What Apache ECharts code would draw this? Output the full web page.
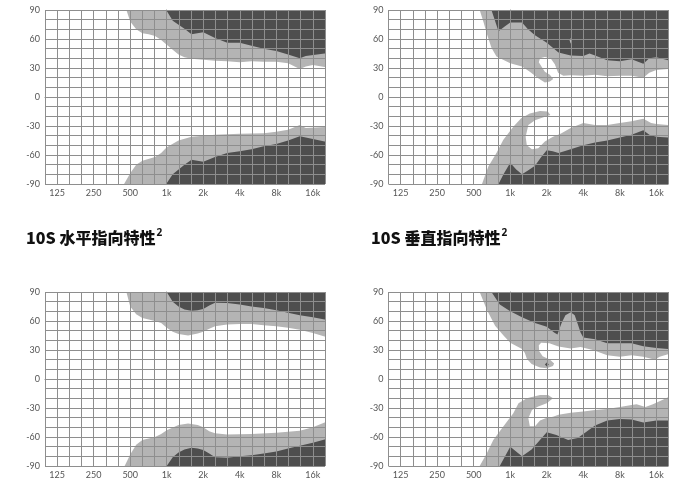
<!DOCTYPE html>
<html>
<head>
<meta charset="utf-8">
<script src="https://cdn.jsdelivr.net/npm/echarts@6/dist/echarts.min.js"></script>
<style>
  html, body { margin: 0; padding: 0; background: #fff; }
  #chart { width: 683px; height: 482px; }
</style>
</head>
<body>
<div id="chart"></div>
<script>
// frequency ticks (Hz) and their labels
const xTickFreqs = [125, 250, 500, 1000, 2000, 4000, 8000, 16000];
const xTickLabels = ['125', '250', '500', '1k', '2k', '4k', '8k', '16k'];
const yTickValues = [-90, -60, -30, 0, 30, 60, 90];

// contour boundaries: [freq Hz, angle deg]
// top-left (horizontal)
const topHUpperLight = [[465,90],[500,78],[560,70],[630,66],[710,65],[800,63],[900,59],[1000,54],[1120,49],[1250,44],[1400,41],[1600,39.5],[2000,38.5],[2500,37.5],[3150,37],[4000,36],[5000,37],[6300,36.5],[8000,36.5],[10000,35],[12500,29],[14000,31.5],[16000,33],[20000,31]];
const topHUpperDark = [[990,90],[1120,79],[1400,70.5],[1600,65],[2000,67],[2500,61],[3150,56],[4000,56],[5000,53],[6300,50],[8000,47.5],[10000,44],[12500,40],[14000,42.5],[20000,45]];
const topHLowerLight = [[445,-90],[500,-79],[560,-70],[630,-66],[800,-62],[900,-58],[1000,-52],[1250,-45],[1600,-41],[2000,-40],[2500,-39],[4000,-38],[6300,-37.5],[8000,-36],[10000,-34],[12500,-29],[14000,-32],[20000,-31]];
const topHLowerDark = [[990,-90],[1120,-80],[1400,-70],[1600,-65],[2000,-67],[2500,-62],[3150,-58],[4000,-56],[5000,-54],[6300,-51],[8000,-48.5],[10000,-45],[12500,-40.5],[14000,-42],[20000,-46]];

// top-right (vertical)
const topVUpperLight = [[560,90],[600,78],[650,63],[700,51],[770,42],[1000,35],[1250,31.5],[1450,26],[1700,19.5],[1930,15],[2120,16],[2260,18.5],[2120,23],[1930,26],[1820,31],[1720,36],[1760,40],[1930,41.5],[2150,40],[2330,34],[2480,25],[2740,22],[3150,22.5],[4000,22],[5000,23],[6300,21.5],[8000,22],[10000,22],[12500,20],[14000,25],[16000,28],[20000,29]];
const topVUpperDark = [[700,90],[800,68],[900,73],[1000,77],[1250,77],[1400,70],[1600,64],[2000,56],[2500,46],[3150,43],[4000,42.5],[4500,45],[5000,43],[6300,38],[8000,37],[10000,39],[12500,34.5],[14000,40],[16000,41],[20000,38]];
const topVLowerLight = [[585,-90],[660,-72],[770,-58],[875,-44.5],[1060,-30.7],[1230,-22],[1450,-17],[1760,-14.5],[2040,-15],[2140,-18.5],[1930,-20.5],[1600,-24],[1410,-29],[1340,-41],[1370,-50],[1510,-54],[1700,-53],[1930,-46],[2250,-41],[2600,-38],[3150,-32],[4000,-27],[5000,-29],[6300,-29],[8000,-27],[10000,-25],[12500,-22.5],[14500,-27],[16000,-28],[20000,-29]];
const topVLowerDark = [[800,-90],[880,-80],[1000,-68],[1120,-75],[1250,-80],[1400,-76],[1600,-71],[1800,-62],[2000,-55],[2240,-56],[2500,-58],[3150,-54],[4000,-50],[5000,-47],[6300,-45],[8000,-42],[10000,-39],[12500,-34.5],[14000,-39],[16000,-41],[20000,-42]];
const topVSpeck = [[3080,59],[3150,61],[3200,58],[3150,55]];

// bottom-left: 10S horizontal
const botHUpperLight = [[465,90],[500,75],[560,67],[630,63],[800,60],[900,58],[1000,53],[1120,49],[1250,46.5],[1500,45],[1800,47],[2000,49],[2240,52],[2500,54.5],[3150,56.5],[4000,57],[5000,57],[6300,55.5],[8000,54.5],[10000,53],[12500,51],[16000,47.5],[20000,44]];
const botHUpperDark = [[1000,90],[1120,80],[1250,75],[1400,72],[1600,70.5],[1800,71],[2000,72.5],[2240,76],[2500,79],[3150,78.5],[4000,77],[5000,75],[6300,73.5],[8000,71],[10000,68.5],[12500,66],[16000,64],[20000,61.5]];
const botHLowerLight = [[450,-90],[500,-78],[560,-68],[630,-63],[800,-60],[900,-57],[1000,-53],[1250,-47.5],[1500,-46],[1800,-47.5],[2000,-50],[2240,-54],[2500,-56],[3150,-57.5],[5000,-57],[8000,-55.5],[12500,-53.5],[16000,-50],[20000,-45]];
const botHLowerDark = [[1000,-90],[1120,-81],[1250,-76],[1400,-73],[1600,-71],[1800,-72],[2000,-73.5],[2240,-77],[2500,-81],[3150,-81.5],[4000,-80],[5000,-79],[6300,-77],[8000,-75],[10000,-72],[12500,-69],[16000,-66],[20000,-62.5]];

// bottom-right: 10S vertical
const botVUpperLight = [[560,90],[640,72],[750,55],[880,45],[1000,37.5],[1250,31],[1320,27],[1370,21],[1500,15.5],[1760,12],[2000,11],[2250,13.5],[2300,16],[2130,20],[1850,23.5],[1730,29],[1720,35],[1800,37.5],[2100,37],[2500,33.5],[3150,31.5],[3800,33],[4800,30],[6300,24.5],[8000,23],[10000,24.5],[12500,23],[15600,20],[17000,23],[20000,25.5]];
const botVUpperDark = [[700,90],[820,77],[1000,70],[1250,64],[1600,58],[2000,54],[2300,48],[2450,46],[2650,58],[2850,66],[3150,69],[3400,66],[3600,57],[3800,48],[4000,43],[5000,41],[6300,37],[8000,37],[10000,37],[12500,34],[16000,32],[20000,31]];
const botVLowerLight = [[560,-90],[640,-77],[725,-63],[880,-49],[1060,-35.5],[1170,-25],[1370,-20],[1760,-16.5],[2050,-16.5],[2250,-20],[2000,-25],[1700,-28.5],[1510,-32],[1410,-40.5],[1450,-49],[1600,-49],[1760,-43],[2000,-40],[2250,-39],[2500,-37],[3150,-35],[4000,-33.5],[5000,-32],[6300,-31],[8000,-29],[10000,-27],[11000,-26],[13000,-29],[15000,-26],[17000,-23],[20000,-19]];
const botVLowerDark = [[820,-90],[1000,-70],[1250,-80],[1500,-73],[2000,-55],[2400,-58],[3000,-63],[3600,-61],[4000,-57],[5000,-48],[6300,-43],[8000,-41.5],[10000,-42],[12500,-45],[16000,-43],[20000,-43]];
const botVSpeck = [[1930,15],[2000,17],[2080,15],[2000,13]];

const titles = ['10S 水平指向特性', '10S 垂直指向特性'];

const LIGHT = '#b4b4b4';
const DARK = '#4e4e4e';
const GRID = '#8e8e8e';
const X_MIN = -10 / 3, X_MAX = 13 / 3;   // 100 Hz .. 20 kHz in octaves re 1 kHz

const toOct = (f) => Math.log2(f / 1000);
const clamp = (v, a, b) => Math.min(Math.max(v, a), b);

// close a boundary path against the top (edge=95) or bottom (edge=-95)
function region(boundary, edge) {
  const pts = boundary.slice();
  const last = pts[pts.length - 1];
  pts.push([22000, last[1]], [22000, edge], [pts[0][0], edge]);
  return pts;
}

function polySeries(axisIdx, pts, color, z) {
  return {
    type: 'custom',
    xAxisIndex: axisIdx,
    yAxisIndex: axisIdx,
    silent: true,
    z: z,
    data: [[0, 0]],
    renderItem: (params, api) => ({
      type: 'polygon',
      shape: {
        points: pts.map((p) => api.coord([clamp(toOct(p[0]), X_MIN, X_MAX), clamp(p[1], -90, 90)])),
      },
      style: { fill: color },
    }),
  };
}

const panels = [
  { left: 45, top: 10, ul: topHUpperLight, ud: topHUpperDark, ll: topHLowerLight, ld: topHLowerDark },
  { left: 388.5, top: 10, ul: topVUpperLight, ud: topVUpperDark, ll: topVLowerLight, ld: topVLowerDark, speck: topVSpeck, speckColor: LIGHT },
  { left: 45, top: 292, ul: botHUpperLight, ud: botHUpperDark, ll: botHLowerLight, ld: botHLowerDark },
  { left: 388.5, top: 292, ul: botVUpperLight, ud: botVUpperDark, ll: botVLowerLight, ld: botVLowerDark, speck: botVSpeck, speckColor: DARK },
];

const xTickOct = xTickFreqs.map(toOct);
const labelFont = { fontSize: 9, color: '#555', fontFamily: 'Lato, "DejaVu Sans", sans-serif' };

const grid = [], xAxis = [], yAxis = [], series = [];
panels.forEach((p, i) => {
  grid.push({ left: p.left, top: p.top, width: 280, height: 174 });
  // labelled frequency axis (octave ticks)
  xAxis.push({
    gridIndex: i, type: 'value', min: X_MIN, max: X_MAX, z: 6,
    axisLine: { lineStyle: { color: GRID, width: 1 } },
    axisTick: { customValues: xTickOct, length: 3, lineStyle: { color: GRID } },
    axisLabel: Object.assign({
      customValues: xTickOct, margin: 5,
      formatter: (v) => {
        const k = xTickOct.findIndex((o) => Math.abs(o - v) < 0.01);
        return k >= 0 ? xTickLabels[k] : '';
      },
    }, labelFont),
    splitLine: { show: false },
  });
  yAxis.push({
    gridIndex: i, type: 'value', min: -90, max: 90, interval: 10, z: 5,
    axisLine: { show: true, lineStyle: { color: GRID, width: 1 } },
    axisTick: { show: true, length: 3, lineStyle: { color: GRID } },
    axisLabel: Object.assign({ customValues: yTickValues, margin: 5 }, labelFont),
    splitLine: { show: true, lineStyle: { color: GRID, width: 1 } },
  });
});
// third-octave grid lines on a second, unlabelled x axis per panel
panels.forEach((p, i) => {
  xAxis.push({
    gridIndex: i, type: 'value', position: 'top', min: X_MIN, max: X_MAX, interval: 1 / 3, z: 5,
    axisLine: { show: false }, axisTick: { show: false }, axisLabel: { show: false },
    splitLine: { show: true, lineStyle: { color: GRID, width: 1 } },
  });
});
panels.forEach((p, i) => {
  series.push(polySeries(i, region(p.ul, 95), LIGHT, 1));
  series.push(polySeries(i, region(p.ll, -95), LIGHT, 1));
  series.push(polySeries(i, region(p.ud, 95), DARK, 2));
  series.push(polySeries(i, region(p.ld, -95), DARK, 2));
  if (p.speck) series.push(polySeries(i, p.speck, p.speckColor, 3));
});

const titleStyle = {
  rich: {
    t: { fontSize: 16, fontWeight: 900, color: '#111', fontFamily: '"Noto Sans CJK SC", sans-serif', lineHeight: 20 },
    s: { fontSize: 10, color: '#111', fontFamily: '"Noto Sans", sans-serif', verticalAlign: 'top', lineHeight: 11, padding: [0, 0, 0, 1] },
  },
};

const chart = echarts.init(document.getElementById('chart'), null, { renderer: 'canvas' });
chart.setOption({
  animation: false,
  backgroundColor: '#fff',
  title: [
    { left: 26, top: 228, padding: 0, text: '{t|' + titles[0] + '}{s|2}', textStyle: titleStyle },
    { left: 371, top: 228, padding: 0, text: '{t|' + titles[1] + '}{s|2}', textStyle: titleStyle },
  ],
  grid: grid,
  xAxis: xAxis,
  yAxis: yAxis,
  series: series,
});
</script>
</body>
</html>
